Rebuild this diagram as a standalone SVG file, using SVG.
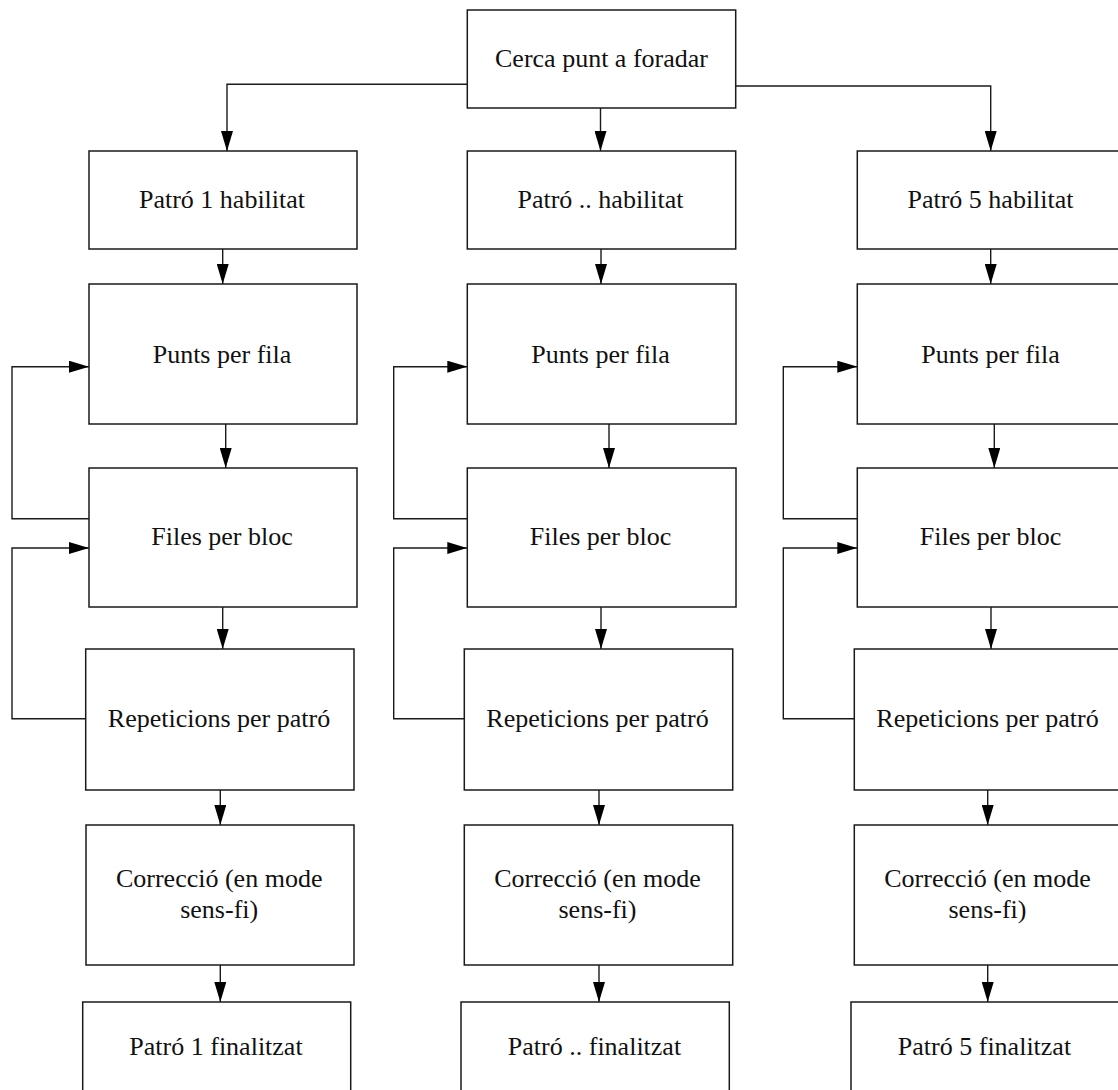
<svg xmlns="http://www.w3.org/2000/svg" width="1118" height="1090" viewBox="0 0 1118 1090">
  <style>
    .box { fill: #fff; stroke: #1a1a1a; stroke-width: 1.5; }
    .lbl { font-size: 26px; fill: #111; text-anchor: middle; }
    .wire { fill: none; stroke: #1a1a1a; stroke-width: 1.4; }
  </style>
  <defs>
    <marker id="arrow" viewBox="0 0 20 12" refX="20" refY="6" markerWidth="20" markerHeight="12" markerUnits="userSpaceOnUse" orient="auto">
      <path d="M0,0 L20,6 L0,12 Z" fill="#000"/>
    </marker>
  </defs>
  <rect width="1118" height="1090" fill="#fff"/>

  <!-- connectors -->
  <g id="connectors" class="wire" marker-end="url(#arrow)">
    <!-- fan-out from the search step -->
    <path d="M467.3,84.3 H227 V151"/>
    <path d="M600.5,108 V151"/>
    <path d="M735.7,86 H990.7 V151"/>

    <!-- column 1 -->
    <path d="M222.7,249 V284"/>
    <path d="M225.7,424 V468"/>
    <path d="M222.7,607 V649"/>
    <path d="M220.3,790 V825"/>
    <path d="M220.3,965 V1002"/>
    <path d="M89,518.7 H12 V366.7 H89"/>
    <path d="M85.7,718.7 H12 V548 H89"/>

    <!-- column 2 -->
    <path d="M601,249 V284"/>
    <path d="M609,424 V468"/>
    <path d="M601,607 V649"/>
    <path d="M599,790 V825"/>
    <path d="M599,965 V1002"/>
    <path d="M467.3,518.7 H393.7 V366.7 H467.3"/>
    <path d="M464.3,718.7 H393.7 V548 H467.3"/>

    <!-- column 3 -->
    <path d="M990.7,249 V284"/>
    <path d="M994.3,424 V468"/>
    <path d="M991,607 V649"/>
    <path d="M987.7,790 V825"/>
    <path d="M987.7,965 V1002"/>
    <path d="M857.3,518.7 H783.3 V366.7 H857.3"/>
    <path d="M854.3,718.7 H783.3 V548 H857.3"/>
  </g>

  <g font-family="'Liberation Serif', 'Times New Roman', 'DejaVu Serif', serif">
  <!-- search step -->
  <g id="cerca">
    <rect class="box" x="467.3" y="10" width="268.4" height="98"/>
    <text class="lbl" x="601.5" y="67">Cerca punt a foradar</text>
  </g>

  <!-- column 1 -->
  <g id="p1-habilitat">
    <rect class="box" x="89" y="151" width="268" height="98"/>
    <text class="lbl" x="222" y="207.5">Patró 1 habilitat</text>
  </g>
  <g id="p1-punts">
    <rect class="box" x="89" y="284" width="268" height="140"/>
    <text class="lbl" x="222" y="363">Punts per fila</text>
  </g>
  <g id="p1-files">
    <rect class="box" x="89" y="468" width="268" height="139"/>
    <text class="lbl" x="222" y="545">Files per bloc</text>
  </g>
  <g id="p1-repeticions">
    <rect class="box" x="85.7" y="649" width="268.3" height="141"/>
    <text class="lbl" x="219" y="727">Repeticions per patró</text>
  </g>
  <g id="p1-correccio">
    <rect class="box" x="86" y="825" width="268" height="140"/>
    <text class="lbl" x="219.2" y="887">Correcció (en mode</text>
    <text class="lbl" x="219.2" y="918">sens-fi)</text>
  </g>
  <g id="p1-finalitzat">
    <rect class="box" x="82.7" y="1002" width="268" height="98"/>
    <text class="lbl" x="216" y="1055">Patró 1 finalitzat</text>
  </g>

  <!-- column 2 -->
  <g id="px-habilitat">
    <rect class="box" x="467.3" y="151" width="268.4" height="98"/>
    <text class="lbl" x="600.5" y="207.5">Patró .. habilitat</text>
  </g>
  <g id="px-punts">
    <rect class="box" x="467.3" y="284" width="268.7" height="140"/>
    <text class="lbl" x="600.5" y="363">Punts per fila</text>
  </g>
  <g id="px-files">
    <rect class="box" x="467.3" y="468" width="268.7" height="139"/>
    <text class="lbl" x="600.5" y="545">Files per bloc</text>
  </g>
  <g id="px-repeticions">
    <rect class="box" x="464.3" y="649" width="268.4" height="141"/>
    <text class="lbl" x="597.5" y="727">Repeticions per patró</text>
  </g>
  <g id="px-correccio">
    <rect class="box" x="464.3" y="825" width="268.4" height="140"/>
    <text class="lbl" x="597.5" y="887">Correcció (en mode</text>
    <text class="lbl" x="597.5" y="918">sens-fi)</text>
  </g>
  <g id="px-finalitzat">
    <rect class="box" x="461" y="1002" width="268.3" height="98"/>
    <text class="lbl" x="594.5" y="1055">Patró .. finalitzat</text>
  </g>

  <!-- column 3 -->
  <g id="p5-habilitat">
    <rect class="box" x="857.3" y="151" width="268" height="98"/>
    <text class="lbl" x="990.5" y="207.5">Patró 5 habilitat</text>
  </g>
  <g id="p5-punts">
    <rect class="box" x="857.3" y="284" width="268" height="140"/>
    <text class="lbl" x="990.5" y="363">Punts per fila</text>
  </g>
  <g id="p5-files">
    <rect class="box" x="857.3" y="468" width="268" height="139"/>
    <text class="lbl" x="990.5" y="545">Files per bloc</text>
  </g>
  <g id="p5-repeticions">
    <rect class="box" x="854.3" y="649" width="268" height="141"/>
    <text class="lbl" x="987.5" y="727">Repeticions per patró</text>
  </g>
  <g id="p5-correccio">
    <rect class="box" x="854.3" y="825" width="268" height="140"/>
    <text class="lbl" x="987.5" y="887">Correcció (en mode</text>
    <text class="lbl" x="987.5" y="918">sens-fi)</text>
  </g>
  <g id="p5-finalitzat">
    <rect class="box" x="851" y="1002" width="268" height="98"/>
    <text class="lbl" x="984.5" y="1055">Patró 5 finalitzat</text>
  </g>
  </g>
</svg>
